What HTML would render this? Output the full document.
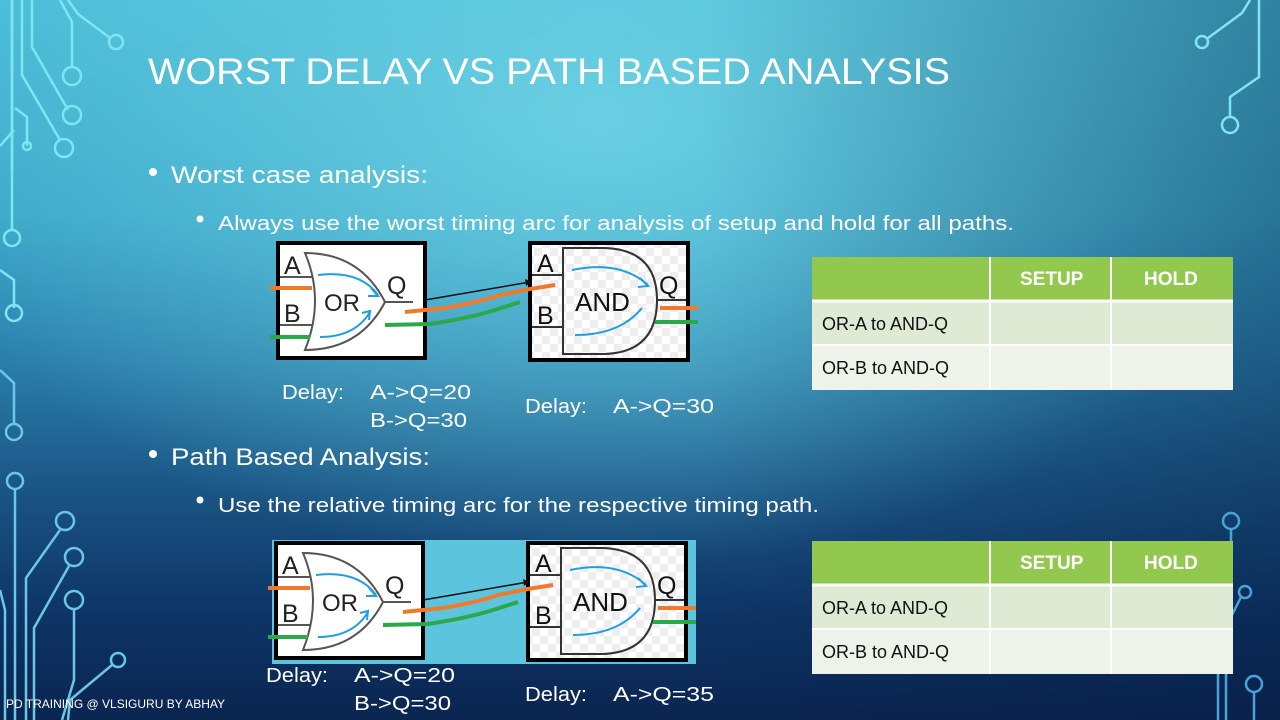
<!DOCTYPE html>
<html><head><meta charset="utf-8"><style>
html,body{margin:0;padding:0;width:1280px;height:720px;overflow:hidden}
body{background:
radial-gradient(ellipse 700px 450px at 600px 120px, rgba(110,210,228,0.9), rgba(110,210,228,0) 100%),
linear-gradient(180deg,#48bcd6 0%,#3aa6c8 30%,#2a7fab 50%,#1a5585 68%,#0e3566 85%,#0a2550 100%);}
#ov{position:absolute;left:0;top:0;width:1280px;height:720px;background:linear-gradient(90deg,rgba(0,0,0,0) 55%,rgba(5,25,60,0.35) 100%)}
svg{position:absolute;left:0;top:0}
text{font-family:"Liberation Sans",sans-serif}
</style></head><body><div id="ov"></div>
<svg width="1280" height="720" viewBox="0 0 1280 720">
<defs>
<pattern id="chk" width="16" height="16" patternUnits="userSpaceOnUse"><rect width="16" height="16" fill="#fff"/><rect width="8" height="8" fill="#eee"/><rect x="8" y="8" width="8" height="8" fill="#eee"/></pattern>
<g id="dg">
 <rect x="8" y="3" width="147" height="115" fill="#fff" stroke="#000" stroke-width="4"/>
 <line x1="10" y1="37" x2="42" y2="37" stroke="#555" stroke-width="2"/>
 <line x1="10" y1="85" x2="42" y2="85" stroke="#555" stroke-width="2"/>
 <path d="M35 13 Q55 60 35 110 Q90 110 115 62 Q90 13 35 13 Z" fill="#fff" stroke="#555" stroke-width="2"/>
 <line x1="115" y1="62" x2="143" y2="62" stroke="#555" stroke-width="2"/>
 <text x="14" y="34" font-size="25" fill="#222">A</text>
 <text x="14" y="82" font-size="25" fill="#222">B</text>
 <text x="54" y="71" font-size="24" fill="#222">OR</text>
 <text x="117" y="54" font-size="25" fill="#222">Q</text>
 <path d="M48 35 Q90 30 108 55" fill="none" stroke="#1ea0e0" stroke-width="2"/>
 <path d="M101 48 L108 56 L98 56" fill="none" stroke="#1ea0e0" stroke-width="2"/>
 <path d="M50 97 Q85 97 100 72" fill="none" stroke="#1ea0e0" stroke-width="2"/>
 <path d="M92 73 L100 71 L99 80" fill="none" stroke="#1ea0e0" stroke-width="2"/>
 <line x1="0" y1="48" x2="42" y2="48" stroke="#f07a2a" stroke-width="4"/>
 <line x1="0" y1="97" x2="40" y2="97" stroke="#2aa84a" stroke-width="4"/>
 <rect x="260" y="3" width="158" height="117" fill="url(#chk)" stroke="#000" stroke-width="4"/>
 <line x1="262" y1="35" x2="293" y2="35" stroke="#333" stroke-width="2"/>
 <line x1="262" y1="87" x2="293" y2="87" stroke="#333" stroke-width="2"/>
 <path d="M293 8 L335 8 Q387 10 387 60 Q387 112 335 114 L293 114 Z" fill="url(#chk)" stroke="#333" stroke-width="2"/>
 <line x1="387" y1="60" x2="416" y2="60" stroke="#333" stroke-width="2"/>
 <text x="267" y="32" font-size="25" fill="#111">A</text>
 <text x="267" y="84" font-size="25" fill="#111">B</text>
 <text x="305" y="71" font-size="26" fill="#111">AND</text>
 <text x="389" y="54" font-size="25" fill="#111">Q</text>
 <path d="M302 30 Q350 20 378 45" fill="none" stroke="#1ea0e0" stroke-width="2"/>
 <path d="M370 38 L378 46 L368 47" fill="none" stroke="#1ea0e0" stroke-width="2"/>
 <path d="M305 95 Q350 95 372 68" fill="none" stroke="#1ea0e0" stroke-width="2"/>
 <line x1="155" y1="60" x2="260" y2="42" stroke="#111" stroke-width="1.5"/>
 <path d="M255 39 L262 42 L256 46 Z" fill="#111"/>
 <path d="M135 72 L175 68 Q210 62 230 55 L260 49 L285 45" fill="none" stroke="#f07a2a" stroke-width="4"/>
 <path d="M115 85 L160 84 Q200 78 225 70 L250 62" fill="none" stroke="#2aa84a" stroke-width="4"/>
 <line x1="390" y1="68" x2="428" y2="68" stroke="#f07a2a" stroke-width="4"/>
 <line x1="385" y1="82" x2="428" y2="82" stroke="#2aa84a" stroke-width="4"/>
</g>
</defs>
<g fill="none" stroke="#7ee6f2" stroke-width="2.5">
<path d="M12 0 V172"/><circle cx="12" cy="238" r="8"/><path d="M12 0 V230"/>
<path d="M22 0 V75 L60 140"/><circle cx="64" cy="148" r="9"/>
<path d="M32 0 V47 L68 110"/><circle cx="72" cy="115" r="9"/>
<path d="M60 0 L72 22 V67"/><circle cx="72" cy="76" r="9"/>
<path d="M68 0 L78 14 L110 38"/><circle cx="116" cy="42" r="7"/>
<path d="M15 108 L27 117 V146"/><circle cx="27" cy="146" r="4"/><path d="M0 146 L14 130"/>
<path d="M0 270 L14 280 V308"/><circle cx="14" cy="313" r="8"/>
</g>
<g fill="none" stroke="#6cc6e6" stroke-width="2.5">
<path d="M0 370 L14 383 V425"/><circle cx="14" cy="432" r="8"/>
<circle cx="15" cy="481" r="8"/><path d="M15 489 V720"/>
<circle cx="65" cy="521" r="9"/><path d="M60 530 L26 578 V720"/>
<circle cx="74" cy="557" r="9"/><path d="M69 566 L34 628 V720"/>
<circle cx="74" cy="600" r="9"/><path d="M74 609 V680 L62 720"/>
<circle cx="118" cy="660" r="7"/><path d="M112 665 L70 700 L68 720"/>
<path d="M0 590 L5 610 V720"/>
</g>
<g fill="none" stroke="#7ee6f2" stroke-width="2.5">
<path d="M1250 0 L1242 13 L1208 38"/><circle cx="1202" cy="42" r="6"/>
<path d="M1259 0 V77 L1230 97 V118"/><circle cx="1230" cy="125" r="8"/>
</g>
<g fill="none" stroke="#4aa2d8" stroke-width="2.5">
<circle cx="1231" cy="521" r="8"/><path d="M1231 529 V550"/>
<circle cx="1245" cy="592" r="6"/><path d="M1241 597 L1232 615"/>
<path d="M1218 650 V720 M1226 650 V720"/>
<circle cx="1254" cy="684" r="8"/><path d="M1254 692 V720"/>
</g>
<g fill="#fff">
<text x="148" y="84" font-size="37" textLength="802" lengthAdjust="spacingAndGlyphs">WORST DELAY VS PATH BASED ANALYSIS</text>
<circle cx="153" cy="172" r="4"/>
<text x="171" y="183" font-size="24" textLength="257" lengthAdjust="spacingAndGlyphs">Worst case analysis:</text>
<circle cx="200" cy="219" r="3.5"/>
<text x="218" y="230" font-size="20" textLength="796" lengthAdjust="spacingAndGlyphs">Always use the worst timing arc for analysis of setup and hold for all paths.</text>
<circle cx="153" cy="454" r="4"/>
<text x="171" y="465" font-size="24" textLength="259" lengthAdjust="spacingAndGlyphs">Path Based Analysis:</text>
<circle cx="200" cy="500" r="3.5"/>
<text x="218" y="512" font-size="20" textLength="601" lengthAdjust="spacingAndGlyphs">Use the relative timing arc for the respective timing path.</text>
<text x="282" y="399" font-size="20" textLength="62" lengthAdjust="spacingAndGlyphs">Delay:</text>
<text x="370" y="399" font-size="20" textLength="101" lengthAdjust="spacingAndGlyphs">A-&gt;Q=20</text>
<text x="370" y="427" font-size="20" textLength="97" lengthAdjust="spacingAndGlyphs">B-&gt;Q=30</text>
<text x="525" y="413" font-size="20" textLength="62" lengthAdjust="spacingAndGlyphs">Delay:</text>
<text x="613" y="413" font-size="20" textLength="101" lengthAdjust="spacingAndGlyphs">A-&gt;Q=30</text>
<text x="266" y="682" font-size="20" textLength="62" lengthAdjust="spacingAndGlyphs">Delay:</text>
<text x="354" y="682" font-size="20" textLength="101" lengthAdjust="spacingAndGlyphs">A-&gt;Q=20</text>
<text x="354" y="710" font-size="20" textLength="97" lengthAdjust="spacingAndGlyphs">B-&gt;Q=30</text>
<text x="525" y="701" font-size="20" textLength="62" lengthAdjust="spacingAndGlyphs">Delay:</text>
<text x="613" y="701" font-size="20" textLength="101" lengthAdjust="spacingAndGlyphs">A-&gt;Q=35</text>
<text x="6" y="708" font-size="12" textLength="219" lengthAdjust="spacingAndGlyphs">PD TRAINING @ VLSIGURU BY ABHAY</text>
</g>
<use href="#dg" x="270" y="240"/>
<rect x="272" y="540" width="424" height="124" fill="#5cc4dc"/>
<use href="#dg" x="268" y="540"/>
<g id="t1">
<rect x="812" y="257" width="421" height="44" fill="#92c84e"/>
<rect x="812" y="301" width="421" height="44" fill="#dfead4"/>
<rect x="812" y="345" width="421" height="45" fill="#eef3e9"/>
<g stroke="#fff" stroke-width="2"><line x1="812" y1="301" x2="1233" y2="301" stroke-width="3"/><line x1="812" y1="345" x2="1233" y2="345"/><line x1="990" y1="257" x2="990" y2="390"/><line x1="1111" y1="257" x2="1111" y2="390"/></g>
<text x="1020" y="285" font-size="19" font-weight="bold" fill="#fff">SETUP</text>
<text x="1144" y="285" font-size="19" font-weight="bold" fill="#fff">HOLD</text>
<text x="822" y="330" font-size="18" fill="#111">OR-A to AND-Q</text>
<text x="822" y="374" font-size="18" fill="#111">OR-B to AND-Q</text>
</g>
<use href="#t1" y="284"/>
</svg>
</body></html>
